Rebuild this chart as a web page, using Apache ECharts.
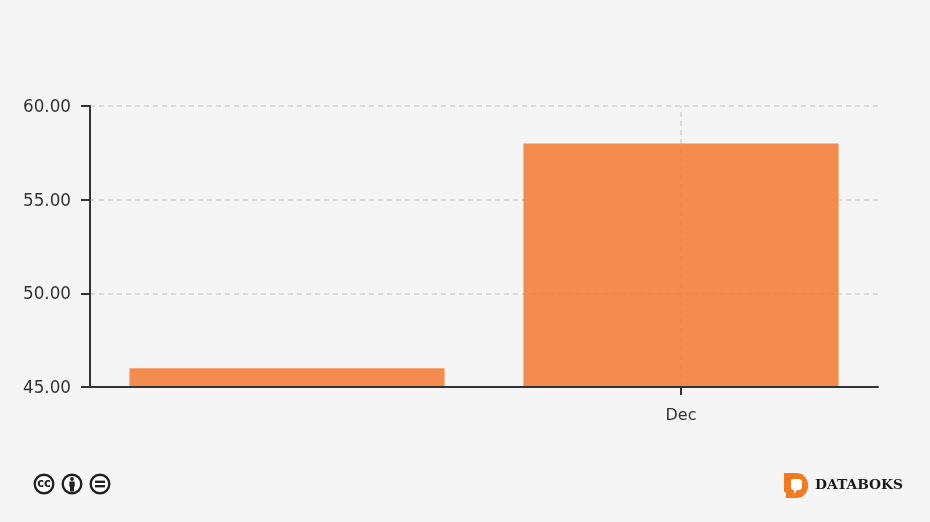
<!DOCTYPE html>
<html>
<head>
<meta charset="utf-8">
<script src="https://cdn.jsdelivr.net/npm/echarts@6/dist/echarts.min.js"></script>
<style>
  html, body { margin: 0; padding: 0; background: #f5f5f5; }
  #main { width: 930px; height: 522px; }
</style>
</head>
<body>
<div id="main"></div>
<script>
var categories = ['', 'Dec']
var values = [46, 58]
var tickedCategory = 'Dec'
var yMin = 45
var yMax = 60
var yStep = 5

var labelFont = '"DejaVu Sans", sans-serif'
var inkColor = '#222'
var axisColor = '#333'
var gridColor = '#d2d2d2'

var chart = echarts.init(document.getElementById('main'))

// lisensi cc + logo digambar sebagai elemen graphic
function ccBadge(x, inner) {
  return {
    type: 'group',
    x: x,
    y: 474,
    children: [
      { type: 'circle', shape: { cx: 10, cy: 10, r: 9.3 }, style: { fill: '#fff', stroke: inkColor, lineWidth: 2.4 } }
    ].concat(inner)
  }
}

var option = {
  backgroundColor: '#f5f5f5',
  animation: false,
  grid: { left: 90, right: 52, top: 106, bottom: 135 },
  xAxis: {
    type: 'category',
    data: categories,
    z: 5,
    axisLine: { lineStyle: { color: axisColor, width: 2 } },
    axisTick: {
      show: true,
      alignWithLabel: true,
      length: 8,
      lineStyle: { color: axisColor, width: 2 },
      customValues: [categories.indexOf(tickedCategory)]
    },
    axisLabel: { color: '#333', fontFamily: labelFont, fontSize: 16, margin: 21, interval: 0 },
    splitLine: { show: false }
  },
  yAxis: {
    type: 'value',
    min: yMin,
    max: yMax,
    interval: yStep,
    axisLine: { show: true, lineStyle: { color: axisColor, width: 2 } },
    axisTick: { show: true, length: 9, lineStyle: { color: axisColor, width: 2 } },
    axisLabel: {
      color: '#333',
      fontFamily: labelFont,
      fontSize: 16.8,
      margin: 19,
      verticalAlign: 'top',
      lineHeight: 3,
      formatter: function (v) { return v.toFixed(2) }
    },
    splitLine: { lineStyle: { color: gridColor, type: [5, 4], width: 1.5 } }
  },
  series: [
    {
      type: 'bar',
      data: values,
      barCategoryGap: '20%',
      z: 2,
      itemStyle: { color: '#f57d38', opacity: 0.88 },
      markLine: {
        silent: true,
        z: 1,
        symbol: 'none',
        label: { show: false },
        lineStyle: { color: gridColor, type: [5, 4], width: 1.5, opacity: 1 },
        data: [{ xAxis: tickedCategory }]
      }
    }
  ],
  graphic: [
    ccBadge(34, [
      { type: 'text', x: 10, y: 10, style: { text: 'cc', fontFamily: labelFont, fontWeight: 'bold', fontSize: 11.5, fill: inkColor, align: 'center', verticalAlign: 'middle' } }
    ]),
    ccBadge(62, [
      { type: 'circle', shape: { cx: 10, cy: 5, r: 1.9 }, style: { fill: inkColor } },
      { type: 'rect', shape: { x: 7.3, y: 7.5, width: 5.4, height: 5.5, r: 1 }, style: { fill: inkColor } },
      { type: 'rect', shape: { x: 8, y: 12, width: 4, height: 5.5 }, style: { fill: inkColor } }
    ]),
    ccBadge(90, [
      { type: 'rect', shape: { x: 5, y: 6.6, width: 10, height: 2.4 }, style: { fill: inkColor } },
      { type: 'rect', shape: { x: 5, y: 11, width: 10, height: 2.4 }, style: { fill: inkColor } }
    ]),
    {
      type: 'polygon',
      shape: { points: [[784, 473], [797, 473], [802, 474], [806, 478], [808, 483], [808, 488], [806, 493], [802, 497], [797, 498], [786, 498], [786, 492], [784, 492]] },
      style: { fill: '#f47a20' }
    },
    {
      type: 'polygon',
      shape: { points: [[792, 479], [800, 479], [802, 481], [802, 488], [800, 490], [797, 490], [794, 494], [794, 490], [792, 490], [791, 488], [791, 481]] },
      style: { fill: '#fff' }
    },
    {
      type: 'text',
      x: 815,
      y: 478,
      style: { text: 'DATABOKS', fontFamily: '"DejaVu Serif", serif', fontWeight: 'bold', fontSize: 13.8, fill: '#1a1a1a' }
    }
  ]
}

chart.setOption(option)
</script>
</body>
</html>
